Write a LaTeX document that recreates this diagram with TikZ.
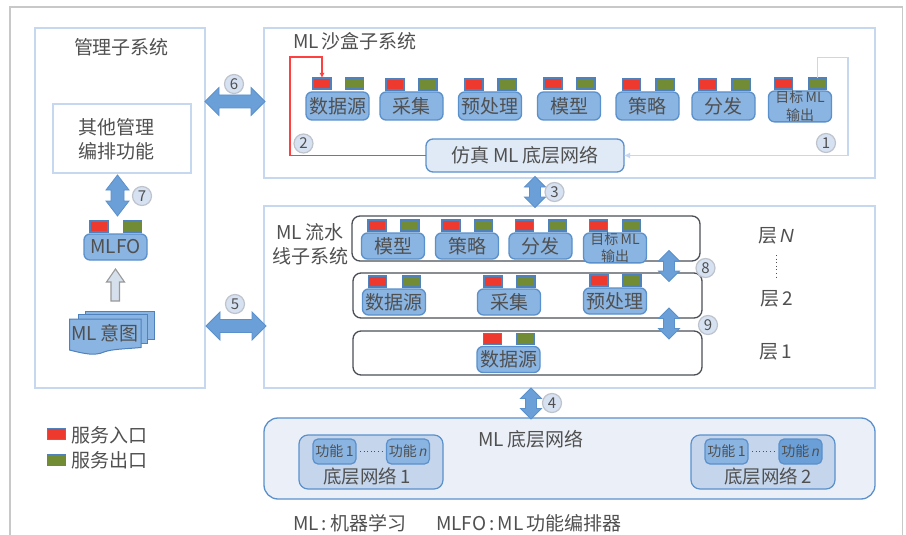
\documentclass[tikz,border=0pt]{standalone}
\usepackage{fontspec}
\setmainfont{Noto Sans CJK SC}
\newfontfamily\latfont{Liberation Sans}
\usetikzlibrary{arrows.meta}
\definecolor{framegray}{HTML}{C8C8C8}
\definecolor{panelblue}{HTML}{C6D8EF}
\definecolor{modfill}{HTML}{8AB4E1}
\definecolor{modline}{HTML}{5A90CB}
\definecolor{portline}{HTML}{4F81BD}
\definecolor{portred}{HTML}{EE3A2E}
\definecolor{portgreen}{HTML}{728C35}
\definecolor{arrowfill}{HTML}{6A9FD8}
\definecolor{txt}{HTML}{505050}
\definecolor{layerline}{HTML}{4A4F55}
\definecolor{circfill}{HTML}{D6E2F2}
\definecolor{circline}{HTML}{BFC4CC}
\definecolor{simfill}{HTML}{DFEAF6}
\definecolor{netfill}{HTML}{EBF0F8}
\definecolor{subnet}{HTML}{C5D6EC}
\definecolor{funcdark}{HTML}{6A9FD8}
\definecolor{hollow}{HTML}{D6E0EC}
\newcommand{\fs}[1]{\fontsize{#1}{#1}\selectfont}
\tikzset{
  every node/.style={inner sep=0pt,outer sep=0pt,text=txt},
  panel/.style={draw=panelblue,line width=1.6pt,anchor=north west},
  modbox/.style={draw=modline,fill=modfill,line width=1.3pt,rounded corners=6pt,anchor=north west,font=\fs{19},align=center},
  inport/.style={draw=portline,fill=portred,line width=1.3pt,anchor=north west,minimum width=18pt,minimum height=11pt},
  outport/.style={draw=portline,fill=portgreen,line width=1.3pt,anchor=north west,minimum width=18pt,minimum height=11pt},
  layerbox/.style={draw=layerline,line width=1.3pt,rounded corners=8pt,anchor=north west},
  label/.style={font=\fs{19}},
  numc/.style={circle,draw=circline,fill=circfill,line width=1.2pt,minimum size=19pt,font=\fs{15}},
  biarrow/.style={draw=modline,fill=arrowfill,line width=.8pt},
  holarrow/.style={draw=gray!80,fill=hollow,line width=1.1pt},
  redline/.style={draw=red!75!white,line width=1.3pt},
  blueline/.style={draw=panelblue,line width=1.8pt},
  funcbox/.style={draw=modline,fill=modfill,line width=1.2pt,rounded corners=5pt,anchor=north west,minimum width=43pt,minimum height=25pt,font=\fs{14}},
  subnetbox/.style={draw=modline,fill=subnet,line width=1.2pt,rounded corners=9pt,anchor=north west,minimum width=144pt,minimum height=54pt},
  dotline/.style={draw=txt,line width=1pt,dash pattern=on 1pt off 2.6pt},
}
% name, left, top, width, height, text, port x red, port x green, port top
\newcommand{\modunit}[9]{%
  \node[modbox,minimum width=#4pt,minimum height=#5pt] (#1) at (#2,#3) {#6};
  \node[inport] (#1in) at (#7,#9) {};
  \node[outport] (#1out) at (#8,#9) {};
}
% horizontal double block arrow: cx, cy, half length, half width, half shaft, head length
\newcommand{\harrow}[6]{%
  \draw[biarrow,shift={(#1,#2)}] (-#3,0) -- (-#3+#6,-#4) -- (-#3+#6,-#5) -- (#3-#6,-#5) -- (#3-#6,-#4) -- (#3,0) -- (#3-#6,#4) -- (#3-#6,#5) -- (-#3+#6,#5) -- (-#3+#6,#4) -- cycle;
}
\newcommand{\varrow}[6]{%
  \draw[biarrow,shift={(#1,#2)}] (0,-#3) -- (-#4,-#3+#6) -- (-#5,-#3+#6) -- (-#5,#3-#6) -- (-#4,#3-#6) -- (0,#3) -- (#4,#3-#6) -- (#5,#3-#6) -- (#5,-#3+#6) -- (#4,-#3+#6) -- cycle;
}
\begin{document}
\begin{tikzpicture}[x=1pt,y=-1pt]
\useasboundingbox (0,0) rectangle (906,535);
\fill[white] (0,0) rectangle (906,535);
% outer frame
\coordinate (fa) at (10,535); \coordinate (fb) at (10,7); \coordinate (fc) at (902.5,7); \coordinate (fd) at (902.5,535);
\draw[framegray,line width=1.2pt] (fa) -- (fb) -- (fc) -- (fd);
% panels
\node[panel,minimum width=170pt,minimum height=360pt] (mgmt) at (35,28) {};
\node[panel,minimum width=611pt,minimum height=150pt] (sand) at (264,28) {};
\node[panel,minimum width=611pt,minimum height=182pt] (pipe) at (264,206) {};
\node[label] (tmgmt) at (121.5,47.5) {管理子系统};
\node[panel,minimum width=138pt,minimum height=69pt] (other) at (53,104) {};
\node[label,align=center] (othert) at (116,139.5) {其他管理\\[5pt]编排功能};
\node[label,anchor=west] (tsand) at (293,41) {ML\,沙盒子系统};
\node[label,align=center] (tpipe) at (310,244.5) {ML\,流水\\[5pt]线子系统};
% sandbox modules
\modunit{a}{306}{92}{63}{28}{数据源}{313}{345.5}{78}
\modunit{b}{380}{92}{63}{28}{采集}{386}{419}{79}
\modunit{c}{458.5}{92}{63}{28}{预处理}{465}{498}{79}
\modunit{d}{537.5}{92}{63}{28}{模型}{544}{577}{78}
\modunit{e}{616}{92}{63}{28}{策略}{622.5}{656}{79}
\modunit{f}{692}{92}{63}{28}{分发}{698.5}{732}{79}
\modunit{g}{768.5}{91}{63}{28}{\fs{14}目标\,ML\\[-1pt]\fs{14}输出}{774.5}{808.5}{78}
\node[draw=modline,fill=simfill,line width=1.3pt,rounded corners=7pt,minimum width=198pt,minimum height=33pt,anchor=north west,font=\fs{19}] (sim) at (426,139) {仿真\,ML\,底层网络};
% connectors 1 and 2
\coordinate (rc) at (290,57);
\draw[redline,-{Latex[length=5pt,width=5pt]}] (sim.west) -- (sim.west -| rc) -- (rc) -- (rc -| ain.north) -- (ain.north);
\coordinate (bc) at (848,57.5);
\draw[blueline,-{Latex[length=6pt,width=6pt]}] (gout.north) -- (gout.north |- bc) -- (bc) -- (bc |- sim.east) -- (sim.east);
\node[numc] (n1) at (826,143) {1};
\node[numc] (n2) at (303.5,143.5) {2};
% layers
\node[layerbox,minimum width=348pt,minimum height=45pt] (ln) at (352,216) {};
\node[layerbox,minimum width=349pt,minimum height=45pt] (l2) at (353,273) {};
\node[layerbox,minimum width=349pt,minimum height=44pt] (l1) at (353,331) {};
\modunit{h}{361.5}{233}{63}{26}{模型}{368}{401}{220}
\modunit{i}{435.5}{233}{63}{26}{策略}{442}{474.5}{220}
\modunit{j}{509}{233}{63}{26}{分发}{515.5}{548.5}{220}
\modunit{k}{583.5}{233}{63}{26}{\fs{14}目标\,ML\\[-2pt]\fs{14}输出}{589.5}{622.5}{220}
\modunit{m}{362.5}{289}{63}{26}{数据源}{368.5}{402.5}{276}
\modunit{o}{477.5}{289}{63}{26}{采集}{484}{517}{276}
\modunit{p}{583.5}{288}{63}{26}{预处理}{590}{623}{275}
\modunit{q}{477}{346.5}{63}{26}{数据源}{483.5}{516.5}{333.5}
\node[label] (ln1) at (776,236) {层\,{\latfont\itshape N}};
\coordinate (da) at (776,255); \coordinate (db) at (776,279);
\draw[dotline] (da) -- (db);
\node[label] (ln2) at (776.5,299) {层\,2};
\node[label] (ln3) at (775.5,352) {层\,1};
% management column
\node[modbox,minimum width=63pt,minimum height=26pt] (mlfo) at (84,234) {MLFO};
\node[inport] (mlfoin) at (90,221) {};
\node[outport] (mlfoout) at (123.5,221) {};
\draw[holarrow] (115.5,269) -- (124.5,282) -- (119.5,282) -- (119.5,301) -- (111,301) -- (111,282) -- (106.5,282) -- cycle;
% intent document stack
\draw[draw=portline,fill=modfill,line width=1pt] (85,311) -- (154,311) -- (154,339) -- (85,339) -- cycle;
\draw[draw=portline,fill=modfill,line width=1pt] (78,314.5) -- (147.5,314.5) -- (147.5,343) -- (78,343) -- cycle;
\draw[draw=portline,fill=modfill,line width=1pt] (69.5,319) -- (141,319) -- (141,347.5) .. controls (125,349) and (112,349) .. (104,352) .. controls (95,356) and (85,354) .. (69.5,350) -- cycle;
\node[label] (intent) at (105,333) {ML\,意图};
% legend
\node[inport] (legr) at (47.5,428.5) {};
\node[outport] (legg) at (47.5,454.5) {};
\node[label,anchor=west] (legrt) at (71,435) {服务入口};
\node[label,anchor=west] (leggt) at (71,460) {服务出口};
% bottom network
\node[draw=modline,fill=netfill,line width=1.3pt,rounded corners=14pt,minimum width=611pt,minimum height=81pt,anchor=north west] (net) at (264,418) {};
\node[label] (tnet) at (531,439) {ML\,底层网络};
\node[subnetbox] (s1) at (299,435) {};
\node[funcbox] (s1a) at (313,439) {功能\,1};
\node[funcbox] (s1b) at (386.5,439) {功能\,{\latfont\itshape n}};
\draw[dotline,shorten >=4pt,shorten <=4pt] (s1a.east) -- (s1b.west);
\node[font=\fs{18.5}] (s1t) at (367,476) {底层网络\,1};
\node[subnetbox] (s2) at (691,435) {};
\node[funcbox] (s2a) at (705,439) {功能\,1};
\node[funcbox,fill=funcdark] (s2b) at (779,439) {功能\,{\latfont\itshape n}};
\draw[dotline,shorten >=4pt,shorten <=4pt] (s2a.east) -- (s2b.west);
\node[font=\fs{18.5}] (s2t) at (768,476) {底层网络\,2};
% footer
\node[label,anchor=west] (f1) at (293,523) {ML\,:\,机器学习};
\node[label,anchor=west] (f2) at (436,523) {MLFO\,:\,ML\,功能编排器};
% double arrows
\harrow{235}{101.5}{30}{14}{6.5}{14}
\harrow{236}{326}{30}{14}{6.5}{14}
\varrow{117.5}{195.5}{20.5}{11.5}{6.5}{15}
\varrow{535}{192}{15.5}{10.5}{5.5}{10.5}
\varrow{531}{403.5}{15.5}{10.5}{5.5}{10.5}
\varrow{669}{266}{15.5}{10.5}{5.5}{10.5}
\varrow{669}{323.5}{15.5}{10.5}{5.5}{10.5}
\node[numc] (n6) at (234,84) {6};
\node[numc] (n5) at (235,304) {5};
\node[numc] (n7) at (142,196) {7};
\node[numc] (n3) at (554.5,192) {3};
\node[numc] (n4) at (552,403) {4};
\node[numc] (n8) at (705.5,268) {8};
\node[numc] (n9) at (708,325) {9};
\end{tikzpicture}
\end{document}
